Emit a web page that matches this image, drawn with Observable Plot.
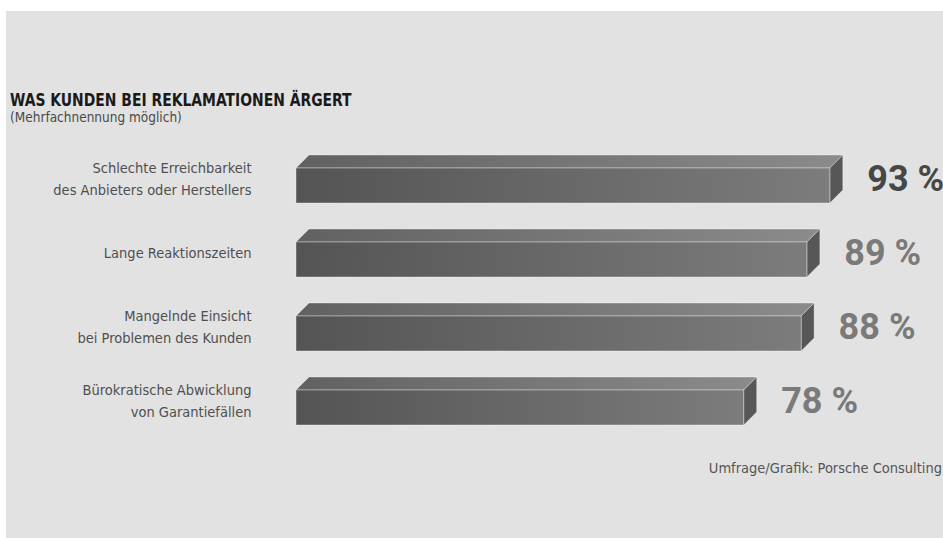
<!DOCTYPE html>
<html>
<head>
<meta charset="utf-8">
<script src="https://cdn.jsdelivr.net/npm/d3@7"></script>
<script src="https://cdn.jsdelivr.net/npm/@observablehq/plot@0.6"></script>
<style>
  html, body { margin: 0; padding: 0; background: #ffffff; width: 943px; height: 538px; overflow: hidden; }
  #panel { position: absolute; left: 6px; top: 11px; width: 937px; height: 527px; background: #e2e2e2; }
  .cond { font-family: "Liberation Sans Narrow", "DejaVu Sans Condensed", "Roboto Condensed", "Arial Narrow", sans-serif; font-stretch: condensed; }
  #title { position: absolute; left: 10px; top: 92px; font-size: 17px; line-height: 1; font-weight: bold; color: #1a1a1a; white-space: nowrap; transform: scaleX(0.91); transform-origin: 0 0; }
  #subtitle { position: absolute; left: 10px; top: 111px; font-size: 13.5px; line-height: 1; color: #4a4a4a; white-space: nowrap; }
  #caption { position: absolute; right: 1px; top: 461px; font-size: 14.5px; line-height: 1; color: #555; white-space: nowrap; }
  #chart { position: absolute; left: 0; top: 0; }
</style>
</head>
<body>
<div id="panel"></div>
<div id="chart"></div>
<div id="title" class="cond">WAS KUNDEN BEI REKLAMATIONEN ÄRGERT</div>
<div id="subtitle" class="cond">(Mehrfachnennung möglich)</div>
<div id="caption" class="cond">Umfrage/Grafik: Porsche Consulting</div>
<script>
const categories = [
  "Schlechte Erreichbarkeit\ndes Anbieters oder Herstellers",
  "Lange Reaktionszeiten",
  "Mangelnde Einsicht\nbei Problemen des Kunden",
  "Bürokratische Abwicklung\nvon Garantiefällen"
];
const values = [93, 89, 88, 78];
const valueLabels = ["93 %", "89 %", "88 %", "78 %"];

const data = categories.map((c, i) => ({category: c, value: values[i], label: valueLabels[i], rank: i}));

const DEPTH = 13;

function defsMark() {
  const defs = d3.create("svg:defs");
  const gf = defs.append("linearGradient").attr("id", "gFront").attr("x1", 0).attr("x2", 1).attr("y1", 0).attr("y2", 0);
  gf.append("stop").attr("offset", "0%").attr("stop-color", "#545454");
  gf.append("stop").attr("offset", "100%").attr("stop-color", "#7c7c7c");
  const gt = defs.append("linearGradient").attr("id", "gTop").attr("x1", 0).attr("x2", 1).attr("y1", 0).attr("y2", 0);
  gt.append("stop").attr("offset", "0%").attr("stop-color", "#616161");
  gt.append("stop").attr("offset", "100%").attr("stop-color", "#8b8b8b");
  return defs.node();
}

function boxFaces(index, scales, vals) {
  const g = d3.create("svg:g");
  const X1 = vals.x1, X2 = vals.x2, Y = vals.y;
  const bw = scales.y && typeof scales.y.bandwidth === "function" ? scales.y.bandwidth() : 35;
  for (const i of index) {
    const x1 = X1[i], x2 = X2[i], y = Y[i];
    g.append("polygon")
      .attr("points", [[x1, y], [x2, y], [x2 + DEPTH, y - DEPTH], [x1 + DEPTH, y - DEPTH]].join(" "))
      .attr("fill", "url(#gTop)")
      .attr("stroke", "rgba(255,255,255,0.45)")
      .attr("stroke-width", 0.8);
    g.append("polygon")
      .attr("points", [[x2, y], [x2 + DEPTH, y - DEPTH], [x2 + DEPTH, y + bw - DEPTH], [x2, y + bw]].join(" "))
      .attr("fill", "#575757")
      .attr("stroke", "rgba(255,255,255,0.45)")
      .attr("stroke-width", 0.8);
  }
  return g.node();
}

const chart = Plot.plot({
  width: 943,
  height: 538,
  margin: 0,
  style: {background: "transparent", overflow: "visible"},
  x: {domain: [0, 100], range: [296, 870], axis: null},
  y: {domain: categories, range: [147.3, 444.7], paddingInner: 0.53, paddingOuter: 0.265, align: 0.5, axis: null},
  marks: [
    defsMark,
    Plot.barX(data, {x1: 0, x2: "value", y: "category", render: boxFaces}),
    Plot.barX(data, {x1: 0, x2: "value", y: "category", fill: "url(#gFront)", stroke: "rgba(255,255,255,0.45)", strokeWidth: 0.8}),
    Plot.text(data, {
      x: 0, y: "category", text: "category",
      dx: -45, dy: -9, textAnchor: "end", lineAnchor: "middle", lineHeight: 1.52,
      fontSize: 14.5, fill: "#4f4f4f",
      fontFamily: "'Liberation Sans Narrow', 'DejaVu Sans Condensed', 'Roboto Condensed', 'Arial Narrow', sans-serif"
    }),
    Plot.text(data, {
      x: "value", y: "category", text: "label",
      dx: 37, dy: -7, textAnchor: "start", lineAnchor: "middle",
      fontSize: 36, fontWeight: "bold", letterSpacing: "-0.5px",
      fill: d => d.rank === 0 ? "#474747" : "#7a7a7a",
      fontFamily: "Roboto, 'Liberation Sans', sans-serif"
    })
  ]
});
document.getElementById("chart").appendChild(chart);
</script>
</body>
</html>
